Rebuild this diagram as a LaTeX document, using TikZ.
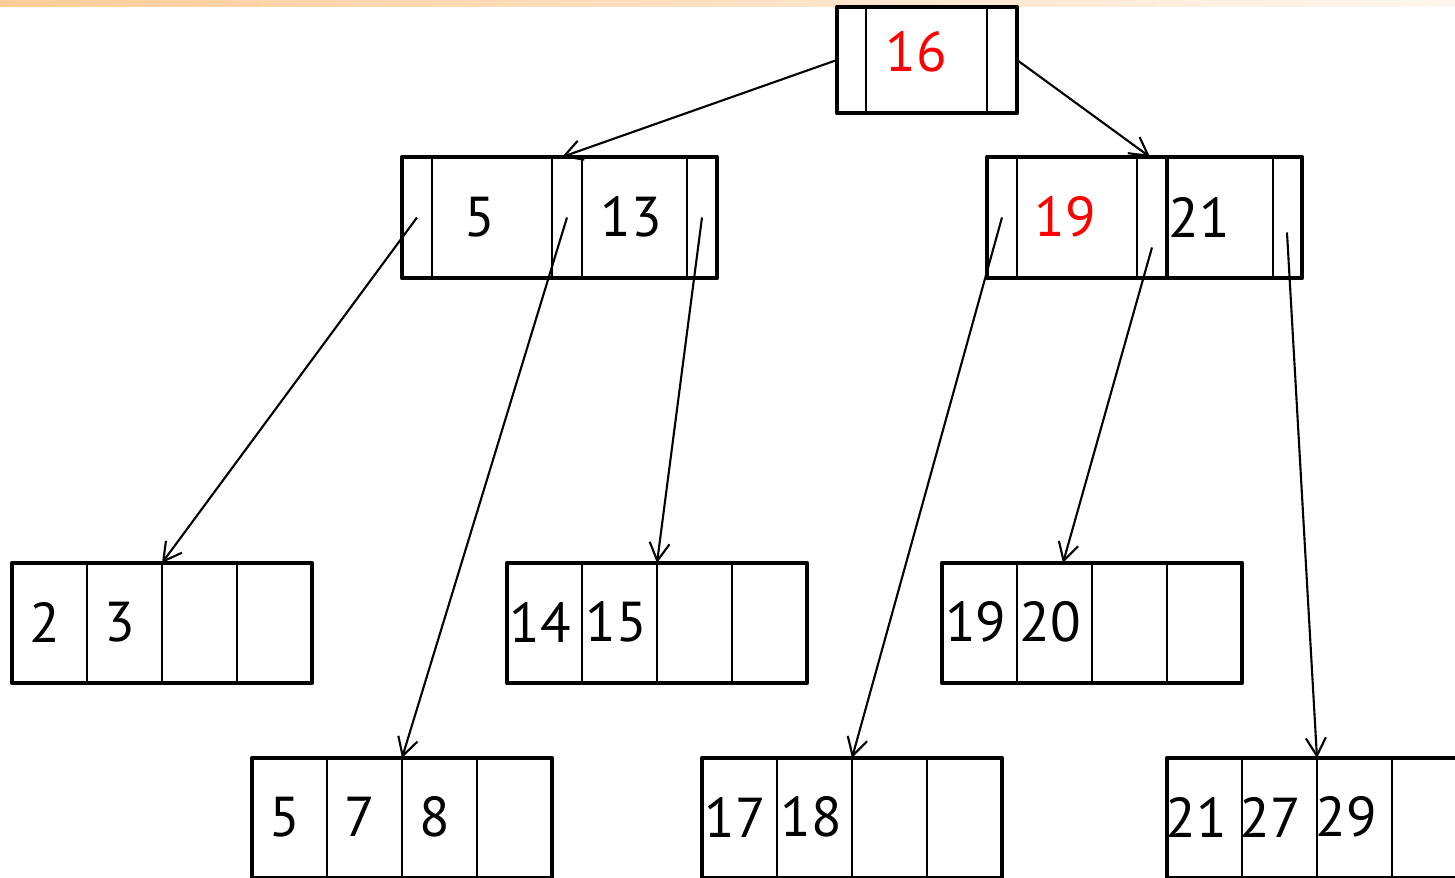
\documentclass[tikz,border=0pt]{standalone}
\usepackage{fontspec}
\setmainfont{PT Sans}
\usepackage{xcolor}
\usepackage{tikz}
\usetikzlibrary{calc,arrows.meta}
\definecolor{barL}{RGB}{255,204,153}
\definecolor{barR}{RGB}{255,246,238}

\begin{document}
\begin{tikzpicture}[x=0.1mm,y=-0.1mm,font=\fontsize{16}{19}\selectfont,
 bx/.style={draw,line width=1.3pt,line join=round,inner sep=0pt,outer sep=0pt,minimum height=12mm},
 lf/.style={bx,minimum width=30mm},
 dv/.style={line width=0.65pt},
 k/.style={inner sep=0pt},
 ar/.style={line width=0.6pt,-{Straight Barb[length=1.8mm,width=2mm]}}]
\useasboundingbox (0,0) rectangle (1455,878);
\shade[left color=barL,right color=barR] (0,0) rectangle (1455,7);
% root
\node[bx,minimum width=18mm,minimum height=10.6mm] (r) at (927,60) {};
\draw[dv] ($(r.north west)+(29,0)$) -- ($(r.south west)+(29,0)$);
\draw[dv] ($(r.north west)+(150,0)$) -- ($(r.south west)+(150,0)$);
% second level
\node[bx,minimum width=31.5mm,minimum height=12.1mm] (nl) at (559.5,217.5) {};
\foreach \d in {30,150,180,285}
 \draw[dv] ($(nl.north west)+(\d,0)$) -- ($(nl.south west)+(\d,0)$);
\node[bx,minimum width=18mm,minimum height=12.1mm] (nr) at (1077,217.5) {};
\node[bx,minimum width=13.5mm,minimum height=12.1mm] (ns) at (1234.5,217.5) {};
\draw[dv] ($(nr.north west)+(30,0)$) -- ($(nr.south west)+(30,0)$);
\draw[dv] ($(nr.north west)+(150,0)$) -- ($(nr.south west)+(150,0)$);
\draw[dv] ($(ns.north west)+(106,0)$) -- ($(ns.south west)+(106,0)$);
% leaves
\node[lf] (la) at (162,623) {};
\node[lf] (lb) at (657,623) {};
\node[lf] (lc) at (1092,623) {};
\node[lf] (ld) at (402,818) {};
\node[lf] (le) at (852,818) {};
\node[lf] (lg) at (1317,818) {};
\foreach \n in {la,lb,lc,ld,le,lg}
 \foreach \d in {75,150,225}
  \draw[dv] ($(\n.north west)+(\d,0)$) -- ($(\n.south west)+(\d,0)$);
% keys
\node[k,text=red] (t16) at (916,52) {16};
\node[k] (t5) at (480,217) {5};
\node[k] (t13) at (631,217) {13};
\node[k,text=red] (t19) at (1065,217) {19};
\node[k] (t21) at (1199,217) {21};
\node[k] (a1) at (45,622) {2};
\node[k] (a2) at (120,622) {3};
\node[k] (b1) at (540,622) {14};
\node[k] (b2) at (616,622) {15};
\node[k] (c1) at (976,622) {19};
\node[k] (c2) at (1050,622) {20};
\node[k] (d1) at (285,817) {5};
\node[k] (d2) at (360,817) {7};
\node[k] (d3) at (435,817) {8};
\node[k] (e1) at (735,817) {17};
\node[k] (e2) at (811,817) {18};
\node[k] (g1) at (1196,817) {21};
\node[k] (g2) at (1270,817) {27};
\node[k] (g3) at (1346,817) {29};
% pointers
\draw[ar] (r.west) -- ($(nl.north west)+(160,0)$);
\draw[ar] (r.east) -- ($(nr.north east)+(-17,0)$);
\draw[ar] ($(nl.west)+(15,0)$) -- ($(la.north west)+(150,0)$);
\draw[ar] ($(nl.west)+(165,0)$) -- ($(ld.north west)+(150,0)$);
\draw[ar] ($(nl.east)+(-15,0)$) -- ($(lb.north west)+(150,0)$);
\draw[ar] ($(nr.west)+(15,0)$) -- ($(le.north west)+(150,0)$);
\draw[ar] ($(nr.east)+(-15,30)$) -- ($(lc.north west)+(121,0)$);
\draw[ar] ($(ns.east)+(-15,15)$) -- ($(lg.north west)+(150,0)$);
\end{tikzpicture}
\end{document}
